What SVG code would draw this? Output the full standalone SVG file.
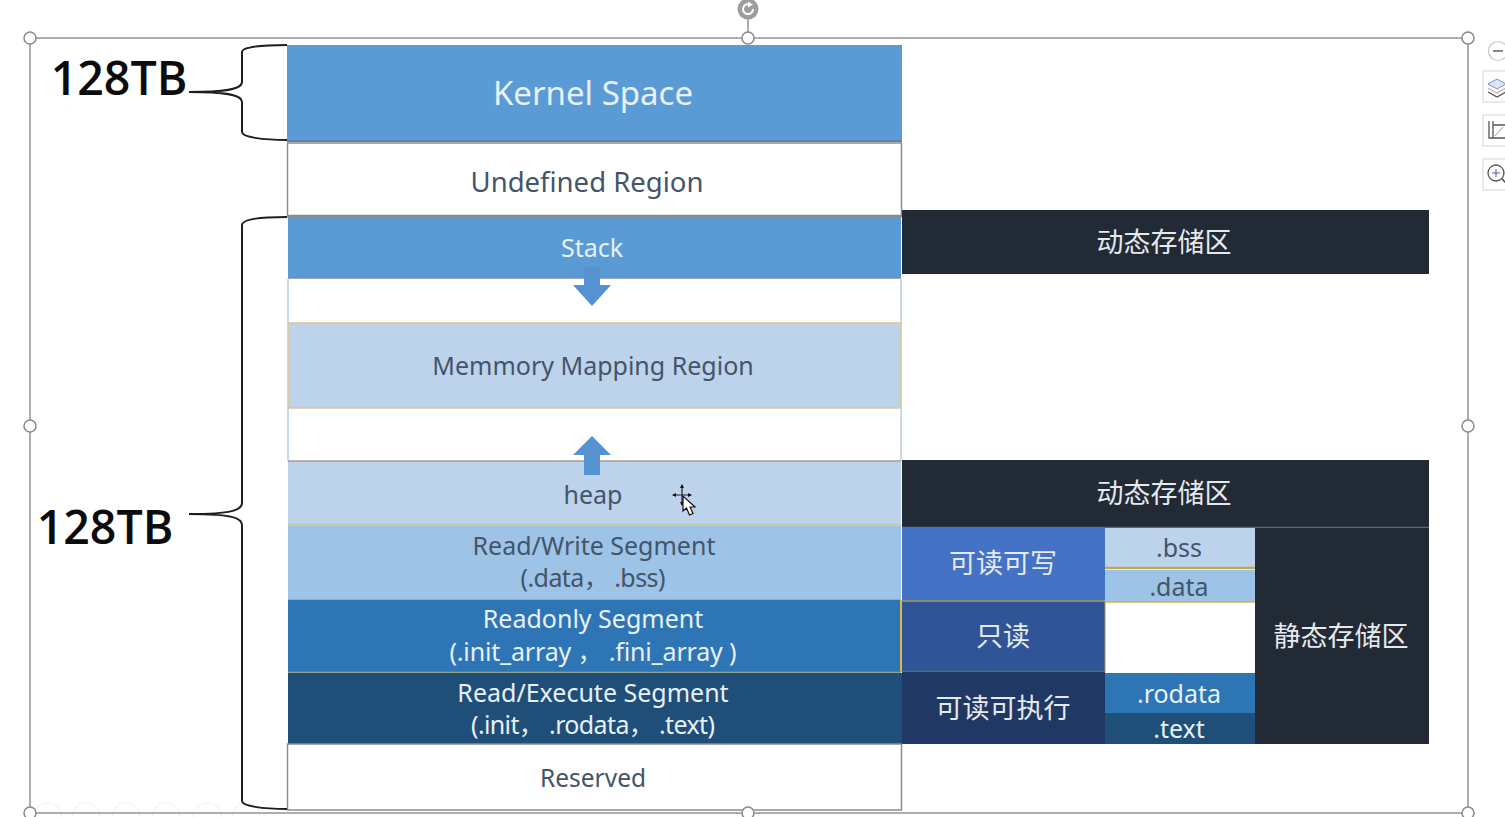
<svg xmlns="http://www.w3.org/2000/svg" width="1505" height="817" viewBox="0 0 1505 817">
<defs><style>
text{font-family:"Noto Sans","Noto Sans CJK SC",sans-serif;text-anchor:middle}
.d{fill:#44546a;font-size:25px}
.w{fill:#e8f0f8;font-size:25px}
.c{fill:#e6e9ee;font-size:27px;font-family:"Noto Sans CJK SC","Noto Sans",sans-serif}
.big{fill:#0c0c0c;font-size:46.500px;font-weight:600;font-family:"Open Sans","Noto Sans",sans-serif}
.h{fill:#fff;stroke:#8a8a8a;stroke-width:1.5}
.b{fill:none;stroke:#1e1e1e;stroke-width:2}
.fr{fill:none;stroke:#9a9a9a;stroke-width:1.6}
.tool{fill:#fff;stroke:#dcdcdc;stroke-width:1.2}
.ic{fill:none;stroke:#555;stroke-width:1.3}
.fa{fill:none;stroke:#f1f1f1;stroke-width:1.2}
</style></defs>
<rect width="1505" height="817" fill="#fff"/>
<g id="faint-toolbar">
<circle class="fa" cx="47" cy="817" r="14"/><circle class="fa" cx="86" cy="817" r="14"/><circle class="fa" cx="126" cy="817" r="14"/><circle class="fa" cx="166" cy="817" r="14"/><circle class="fa" cx="207" cy="817" r="14"/><circle class="fa" cx="246" cy="817" r="14"/>
</g>
<g id="selection-frame">
<rect class="fr" x="30" y="38" width="1438" height="775"/>
<line class="fr" x1="748" y1="18" x2="748" y2="38"/>
</g>
<g id="kernel"><rect x="287" y="45" width="615" height="95" fill="#5b9bd5"/><line x1="287" y1="141" x2="902" y2="141" stroke="#5f84ac" stroke-width="2"/><text class="w" x="593" y="105" style="font-size:33px">Kernel Space</text></g>
<g id="undefined"><rect x="287.500" y="143" width="614" height="73" fill="#fff" stroke="#8c8c8c" stroke-width="1.500"/><text class="d" x="587" y="192" style="font-size:27.500px">Undefined Region</text></g>
<g id="stack"><rect x="288" y="217" width="613" height="61" fill="#5b9bd5"/><line x1="287" y1="216" x2="902" y2="216" stroke="#8f8a88" stroke-width="2.500"/><line x1="288" y1="278" x2="901" y2="278" stroke="#7d8b9a" stroke-width="1.500"/><text class="w" x="592" y="257">Stack</text></g>
<g id="gap-upper"><rect x="288" y="279" width="613" height="44" fill="#fff"/><line x1="288" y1="279" x2="288" y2="323" stroke="#b9cde4" stroke-width="1.500"/><line x1="901" y1="279" x2="901" y2="323" stroke="#b9cde4" stroke-width="1.500"/></g>
<g id="mmap"><rect x="288" y="323" width="613" height="85" fill="#bdd3ec" stroke="#d9c98c" stroke-width="1.500"/><text class="d" x="593" y="375">Memmory Mapping Region</text></g>
<g id="gap-lower"><line x1="288" y1="408" x2="288" y2="461" stroke="#b9cde4" stroke-width="1.500"/><line x1="901" y1="408" x2="901" y2="461" stroke="#b9cde4" stroke-width="1.500"/></g>
<g id="heap"><rect x="288" y="461" width="613" height="64" fill="#bdd3ec"/><line x1="288" y1="461" x2="901" y2="461" stroke="#ab9a8e" stroke-width="1.500"/><line x1="288" y1="525" x2="901" y2="525" stroke="#c9bd84" stroke-width="1.500"/><text class="d" x="593" y="504">heap</text></g>
<g id="rw"><rect x="288" y="526" width="613" height="74" fill="#9dc3e6"/><line x1="288" y1="600" x2="901" y2="600" stroke="#9bae5e" stroke-width="1.500"/><text class="d" x="594" y="555">Read/Write Segment</text><text class="d" x="593" y="587" textLength="145">(.data， .bss)</text></g>
<g id="ro"><rect x="288" y="600" width="613" height="72" fill="#2e75b6"/><line x1="901" y1="600" x2="901" y2="672" stroke="#d9b84c" stroke-width="2"/><line x1="288" y1="672" x2="901" y2="672" stroke="#6d8a5c" stroke-width="1.500"/><text class="w" x="593" y="628">Readonly Segment</text><text class="w" x="593" y="661" textLength="287">(.init_array ， .fini_array )</text></g>
<g id="rx"><rect x="288" y="673" width="614" height="71" fill="#1f4e79"/><text class="w" x="593" y="702">Read/Execute Segment</text><text class="w" x="593" y="734" textLength="244">(.init， .rodata， .text)</text></g>
<g id="reserved"><rect x="287.500" y="744" width="614" height="66" fill="#fff" stroke="#8c8c8c" stroke-width="1.500"/><text class="d" x="593" y="787" style="font-size:24.500px">Reserved</text></g>
<g id="dyn1"><rect x="902" y="210" width="527" height="64" fill="#222a35"/><text class="c" x="1164" y="252">动态存储区</text></g>
<g id="dyn2"><rect x="902" y="460" width="527" height="67" fill="#222a35"/><line x1="902" y1="527.500" x2="1429" y2="527.500" stroke="#3f6f9c" stroke-width="1.500"/><text class="c" x="1164" y="503">动态存储区</text></g>
<g id="static"><rect x="1255" y="528" width="174" height="216" fill="#222a35"/><text class="c" x="1341" y="646">静态存储区</text></g>
<g id="rw-cell"><rect x="902" y="527" width="203" height="74" fill="#4472c4"/><text class="c" x="1003" y="573">可读可写</text></g>
<g id="ro-cell"><rect x="902" y="601" width="203" height="71" fill="#2f5597"/><line x1="902" y1="601" x2="1105" y2="601" stroke="#a39a58" stroke-width="1.500"/><line x1="1105" y1="601" x2="1105" y2="672" stroke="#a39a58" stroke-width="1"/><line x1="902" y1="671.500" x2="1105" y2="671.500" stroke="#5d6b66" stroke-width="1.500"/><text class="c" x="1003" y="646">只读</text></g>
<g id="rx-cell"><rect x="902" y="672" width="203" height="72" fill="#203864"/><text class="c" x="1003" y="718">可读可执行</text></g>
<g id="bss"><rect x="1105" y="528" width="150" height="39" fill="#bdd3ec"/><line x1="1105" y1="568" x2="1255" y2="568" stroke="#c2a84a" stroke-width="2.500"/><text class="d" x="1179" y="557">.bss</text></g>
<g id="data"><rect x="1105" y="570" width="150" height="32" fill="#9dc3e6"/><line x1="1105" y1="602" x2="1255" y2="602" stroke="#d2b354" stroke-width="1.500"/><text class="d" x="1179" y="596">.data</text></g>
<g id="rodata"><rect x="1105" y="673" width="150" height="41" fill="#2e75b6"/><text class="w" x="1179" y="703">.rodata</text></g>
<g id="text-cell"><rect x="1105" y="713" width="150" height="31" fill="#1f4e79"/><text class="w" x="1179" y="738">.text</text></g>
<g id="connectors">
<path class="b" d="M287 45C262 45 242 47 242 52V82C242 88 232 92 189 92C232 92 242 96 242 102V132C242 137 262 140 287 140"/>
<path class="b" d="M287 217C262 217 242 219 242 225V503C242 510 232 514 189 514C232 514 242 518 242 525V801C242 806 262 809 287 809"/>
<path d="M584 267H600V285H611L592 306L573 285H584Z" fill="#5692cf"/>
<path d="M592 436L611 455H600V475H584V455H573Z" fill="#5692cf"/>
</g>
<g id="labels"><text class="big" x="119" y="95">128TB</text><text class="big" x="105" y="544">128TB</text></g>
<g id="handles">
<circle class="h" cx="30" cy="38" r="6"/><circle class="h" cx="748" cy="38" r="6"/><circle class="h" cx="1468" cy="38" r="6"/><circle class="h" cx="30" cy="426" r="6"/><circle class="h" cx="1468" cy="426" r="6"/><circle class="h" cx="30" cy="813" r="6"/><circle class="h" cx="748" cy="813" r="6"/><circle class="h" cx="1468" cy="813" r="6"/>
<circle cx="748" cy="9" r="10.500" fill="#9d9d9d"/><path d="M753 9A5 5 0 1 1 750 4.500" fill="none" stroke="#fff" stroke-width="2"/><path d="M748 1.500L753 4.500L748 7.500Z" fill="#fff"/>
</g>
<g id="side-tools">
<circle class="tool" cx="1498" cy="51" r="9.500" style="stroke:#c8c8c8"/><line x1="1493" y1="51" x2="1503" y2="51" stroke="#8a8a8a" stroke-width="2"/>
<rect class="tool" x="1483" y="71" width="30" height="31"/><path d="M1488 84L1497 79L1506 84L1497 89Z" fill="#dbe5f5" stroke="#7f93c9"/><path d="M1488 88L1497 93L1506 88" class="ic" style="stroke:#c9b0a8"/><path d="M1488 92L1497 97L1506 92" class="ic"/>
<rect class="tool" x="1483" y="115" width="30" height="31"/><path d="M1489 121V138H1506M1493 125H1510M1493 121V138" class="ic"/><line x1="1495" y1="136" x2="1503" y2="127" stroke="#8a9ac9"/>
<rect class="tool" x="1483" y="159" width="30" height="31"/><circle class="ic" cx="1496" cy="173" r="8"/><path d="M1492 173H1500M1496 169V177" stroke="#5a56a0" fill="none"/><line x1="1502" y1="179" x2="1507" y2="184" stroke="#444" stroke-width="1.500"/>
</g>
<g id="cursor">
<path d="M682 485V505M673 495H691" stroke="#222" stroke-width="1.200" fill="none"/><path d="M682 484L680 488H684ZM682 506L680 502H684ZM672 495L676 493V497ZM692 495L688 493V497Z" fill="#111"/>
<path d="M683 496V511L686.500 508L689.500 515L693 513.500L690 507H695Z" fill="#fff" stroke="#111" stroke-width="1.200"/>
</g>
</svg>
